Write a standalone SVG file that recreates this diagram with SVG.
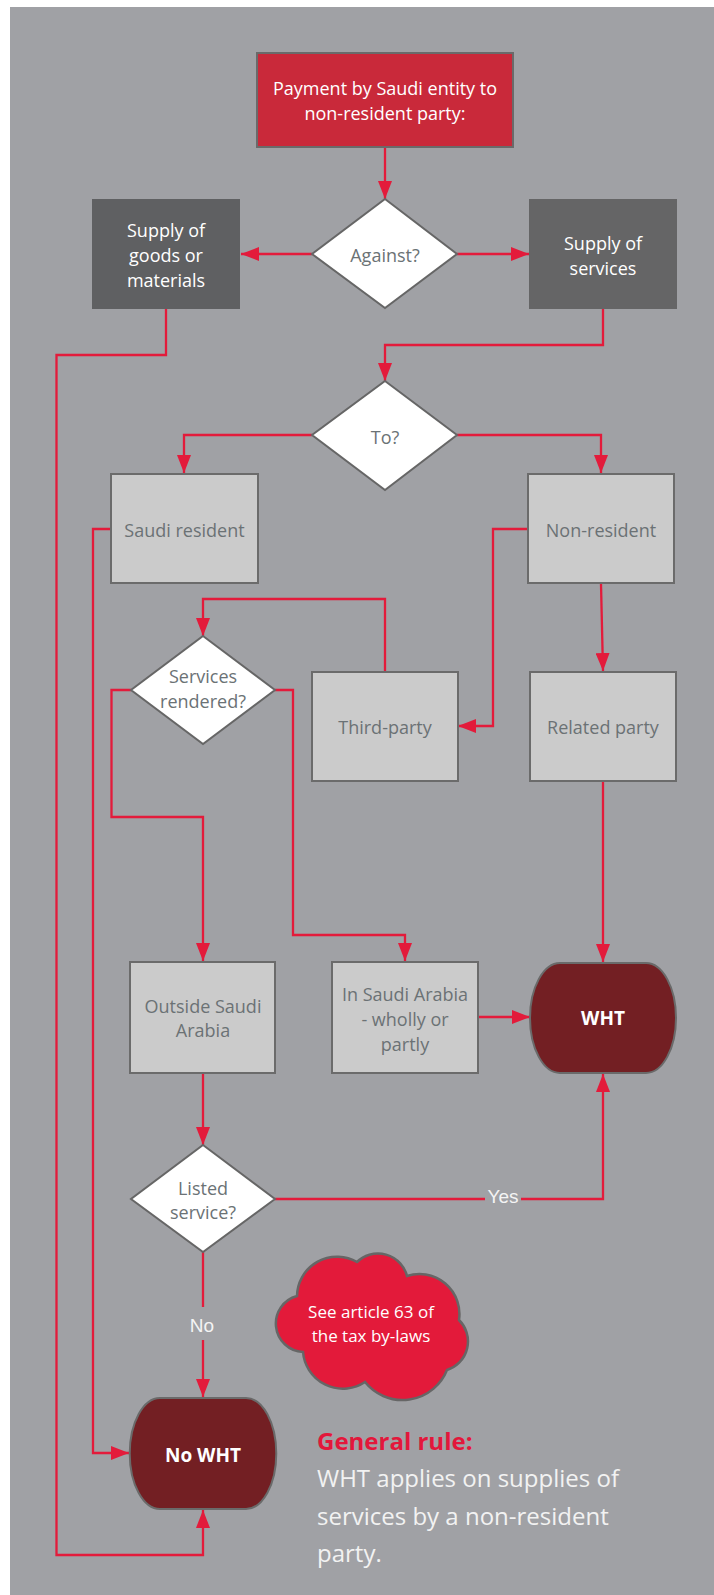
<svg xmlns="http://www.w3.org/2000/svg" width="714" height="1595" viewBox="0 0 714 1595">
<style>
  .t { font-family: "Open Sans", "Liberation Sans", sans-serif; font-size: 18px; text-anchor: middle; }
  .w { fill: #ffffff; }
  .g { fill: #6b7275; }
  .b { font-weight: bold; font-size: 19px; }
  .lbl { font-family: "Liberation Sans", Arial, sans-serif; font-size: 19px; fill: #f4f4f4; text-anchor: middle; }
  .light { fill: #cbcbcb; stroke: #6b6b6b; stroke-width: 2; }
  .dia { fill: #ffffff; stroke: #666666; stroke-width: 2; }
  .term { fill: #731f23; stroke: #6a6a6a; stroke-width: 2; }
  .c { fill: none; stroke: #e31b3b; stroke-width: 2.3; marker-end: url(#ah); }
  .cn { fill: none; stroke: #e31b3b; stroke-width: 2.3; }
</style>
<defs>
  <marker id="ah" viewBox="0 0 18 14" refX="18" refY="7" markerWidth="18" markerHeight="14" markerUnits="userSpaceOnUse" orient="auto">
    <path d="M0,0 L18,7 L0,14 Z" fill="#e31b3b"/>
  </marker>
</defs>
<rect x="0" y="0" width="714" height="1595" fill="#ffffff"/>
<rect x="10" y="7" width="704" height="1588" fill="#a0a1a5"/>

<g id="connectors">
  <path class="c" d="M385,148 V199"/>
  <path class="c" d="M312,254 H241"/>
  <path class="c" d="M457,254 H529"/>
  <path class="c" d="M166,309 V355 H56.5 V1555 H203 V1510"/>
  <path class="c" d="M603,309 V345 H385 V381"/>
  <path class="c" d="M312,435 H184 V473"/>
  <path class="c" d="M457,435 H601 V473"/>
  <path class="c" d="M111.5,529 H93 V1453 H129"/>
  <path class="c" d="M528,529 H493 V726 H458"/>
  <path class="c" d="M601,584 L603,671"/>
  <path class="c" d="M385,672 V599 H203 V636"/>
  <path class="c" d="M131,690 H111.5 V817 H203 V961"/>
  <path class="c" d="M275,690 H293 V935 H405 V961"/>
  <path class="c" d="M603,782 V962"/>
  <path class="c" d="M479,1017 H530"/>
  <path class="c" d="M203,1074 V1145"/>
  <path class="cn" d="M275,1199 H485"/>
  <path class="c" d="M521,1199 H603 V1074"/>
  <path class="cn" d="M203,1252 V1307"/>
  <path class="c" d="M203,1340 V1397"/>
  <text class="lbl" x="503" y="1203">Yes</text>
  <text class="lbl" x="202" y="1332">No</text>
</g>

<g id="n-payment">
  <rect x="257" y="53" width="256" height="94" fill="#c9293a" stroke="#6a6a6a" stroke-width="2"/>
  <text class="t w" x="385" y="95">Payment by Saudi entity to</text>
  <text class="t w" x="385" y="120">non-resident party:</text>
</g>
<g id="n-against">
  <polygon class="dia" points="385,199 457,254 385,308 312,254"/>
  <text class="t g" x="385" y="262">Against?</text>
</g>
<g id="n-goods">
  <rect x="92" y="199" width="148" height="110" fill="#5f6062"/>
  <text class="t w" x="166" y="237">Supply of</text>
  <text class="t w" x="166" y="262">goods or</text>
  <text class="t w" x="166" y="287">materials</text>
</g>
<g id="n-services">
  <rect x="529" y="199" width="148" height="110" fill="#656566"/>
  <text class="t w" x="603" y="250">Supply of</text>
  <text class="t w" x="603" y="275">services</text>
</g>
<g id="n-to">
  <polygon class="dia" points="385,381 457,435 385,490 312,435"/>
  <text class="t g" x="385" y="444">To?</text>
</g>
<g id="n-saudi-resident">
  <rect class="light" x="111" y="474" width="147" height="109"/>
  <text class="t g" x="184.5" y="537">Saudi resident</text>
</g>
<g id="n-non-resident">
  <rect class="light" x="528" y="474" width="146" height="109"/>
  <text class="t g" x="601" y="537">Non-resident</text>
</g>
<g id="n-rendered">
  <polygon class="dia" points="203,636 275,690 203,744 131,690"/>
  <text class="t g" x="203" y="683">Services</text>
  <text class="t g" x="203" y="708">rendered?</text>
</g>
<g id="n-third-party">
  <rect class="light" x="312" y="672" width="146" height="109"/>
  <text class="t g" x="385" y="734">Third-party</text>
</g>
<g id="n-related-party">
  <rect class="light" x="530" y="672" width="146" height="109"/>
  <text class="t g" x="603" y="734">Related party</text>
</g>
<g id="n-outside">
  <rect class="light" x="130" y="962" width="145" height="111"/>
  <text class="t g" x="203" y="1013">Outside Saudi</text>
  <text class="t g" x="203" y="1037">Arabia</text>
</g>
<g id="n-in-saudi">
  <rect class="light" x="332" y="962" width="146" height="111"/>
  <text class="t g" x="405" y="1001">In Saudi Arabia</text>
  <text class="t g" x="405" y="1026">- wholly or</text>
  <text class="t g" x="405" y="1051">partly</text>
</g>
<g id="n-wht">
  <path class="term" d="M560,963 H646 A30,55 0 0 1 646,1073 H560 A30,55 0 0 1 560,963 Z"/>
  <text class="t w b" x="603" y="1025">WHT</text>
</g>
<g id="n-listed">
  <polygon class="dia" points="203,1145 275,1199 203,1252 131,1199"/>
  <text class="t g" x="203" y="1195">Listed</text>
  <text class="t g" x="203" y="1219">service?</text>
</g>
<g id="n-no-wht">
  <path class="term" d="M160,1398 H246 A30,55 0 0 1 246,1509 H160 A30,55 0 0 1 160,1398 Z"/>
  <text class="t w b" x="203" y="1462">No WHT</text>
</g>
<g id="n-cloud">
  <path d="M297,1296 A40,40 0 0 1 357,1262 A30,30 0 0 1 407,1276 A40,40 0 0 1 459,1320 A30,30 0 0 1 447,1370 A48,48 0 0 1 365,1382 A40,40 0 0 1 303,1352 A28.5,28.5 0 0 1 297,1296 Z" fill="#e31a3a" stroke="#666666" stroke-width="2.5"/>
  <text class="t w" x="371" y="1318" style="font-size:17px">See article 63 of</text>
  <text class="t w" x="371" y="1342" style="font-size:17px">the tax by-laws</text>
</g>
<g id="note">
  <text x="317" y="1450" style="font-family:'Open Sans','Liberation Sans',sans-serif;font-size:24px;font-weight:bold;fill:#e3173b">General rule:</text>
  <text x="317" y="1487" style="font-family:'Open Sans','Liberation Sans',sans-serif;font-size:24px;fill:#f2f2f2">WHT applies on supplies of</text>
  <text x="317" y="1525" style="font-family:'Open Sans','Liberation Sans',sans-serif;font-size:24px;fill:#f2f2f2">services by a non-resident</text>
  <text x="317" y="1562" style="font-family:'Open Sans','Liberation Sans',sans-serif;font-size:24px;fill:#f2f2f2">party.</text>
</g>
</svg>
